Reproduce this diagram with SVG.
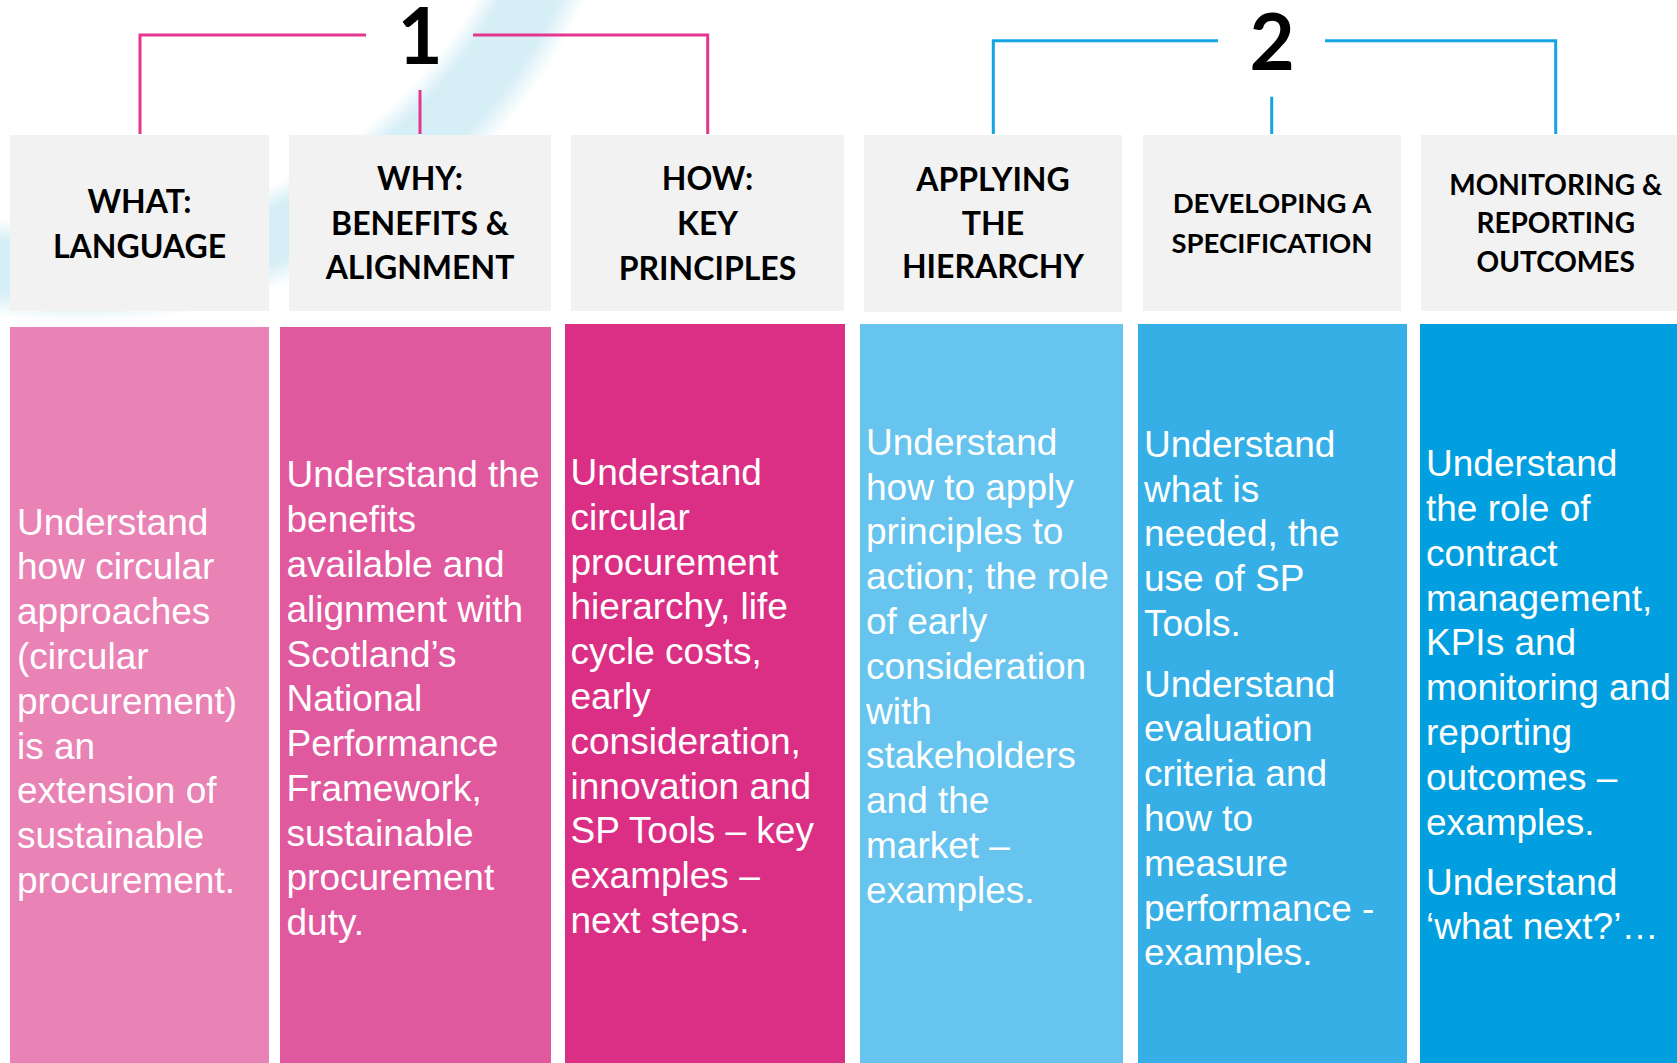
<svg xmlns="http://www.w3.org/2000/svg" width="1677" height="1063" viewBox="0 0 1677 1063">
<style>
.hd{fill:#F2F2F2}
.ht{font-family:Lato,"Open Sans",sans-serif;font-weight:700;font-size:32px;fill:#000;text-anchor:middle}
.ht5{font-size:27.5px}
.ht6{font-size:28px}
.num{font-family:Lato,"Open Sans",sans-serif;font-weight:700;font-size:78px;fill:#000;text-anchor:middle}
.bt{font-family:"Liberation Sans",Arial,sans-serif;font-size:37px;fill:#fff}
.lp{fill:none;stroke:#E4368F;stroke-width:3}
.lb{fill:none;stroke:#14A3E3;stroke-width:3}
</style>
<defs>
<radialGradient id="sw" gradientUnits="userSpaceOnUse" cx="83.5" cy="-228.6" r="560">
<stop offset="0.81" stop-color="#D6EEF6" stop-opacity="0"/>
<stop offset="0.85" stop-color="#D6EEF6" stop-opacity="1"/>
<stop offset="0.94" stop-color="#D6EEF6" stop-opacity="1"/>
<stop offset="0.985" stop-color="#D6EEF6" stop-opacity="0"/>
</radialGradient>
</defs>
<rect width="1677" height="1063" fill="#fff"/>
<circle cx="83.5" cy="-228.6" r="502" fill="none" stroke="url(#sw)" stroke-width="100"/>

<g id="connectors">
<path class="lp" d="M140 134 V35 H366"/>
<path class="lp" d="M473 35 H707.7 V134"/>
<path class="lp" d="M420 90 V134"/>
<path class="lb" d="M993.3 134 V40.7 H1218"/>
<path class="lb" d="M1325 40.7 H1555.7 V134"/>
<path class="lb" d="M1271.7 96.7 V134"/>
</g>

<g id="label-1"><text class="num" x="420" y="64">1</text></g>
<g id="label-2"><text class="num" x="1272" y="70">2</text></g>

<g id="col1">
<rect class="hd" x="10" y="135" width="259" height="176"/>
<text class="ht" x="139.5" y="212.7">WHAT:</text>
<text class="ht" x="139.5" y="257.7">LANGUAGE</text>
<rect x="10" y="327" width="259" height="736" fill="#E982B5"/>
<text class="bt" x="17" y="534.5">Understand<tspan x="17" dy="44.8">how circular</tspan><tspan x="17" dy="44.8">approaches</tspan><tspan x="17" dy="44.8">(circular</tspan><tspan x="17" dy="44.8">procurement)</tspan><tspan x="17" dy="44.8">is an</tspan><tspan x="17" dy="44.8">extension of</tspan><tspan x="17" dy="44.8">sustainable</tspan><tspan x="17" dy="44.8">procurement.</tspan></text>
</g>

<g id="col2">
<rect class="hd" x="289" y="135" width="262" height="176"/>
<text class="ht" x="420" y="190">WHY:</text>
<text class="ht" x="420" y="235">BENEFITS &amp;</text>
<text class="ht" x="420" y="279.3">ALIGNMENT</text>
<rect x="280" y="327" width="271" height="736" fill="#E0589D"/>
<text class="bt" x="286.5" y="487.3">Understand the<tspan x="286.5" dy="44.8">benefits</tspan><tspan x="286.5" dy="44.8">available and</tspan><tspan x="286.5" dy="44.8">alignment with</tspan><tspan x="286.5" dy="44.8">Scotland’s</tspan><tspan x="286.5" dy="44.8">National</tspan><tspan x="286.5" dy="44.8">Performance</tspan><tspan x="286.5" dy="44.8">Framework,</tspan><tspan x="286.5" dy="44.8">sustainable</tspan><tspan x="286.5" dy="44.8">procurement</tspan><tspan x="286.5" dy="44.8">duty.</tspan></text>
</g>

<g id="col3">
<rect class="hd" x="571" y="135" width="273" height="176"/>
<text class="ht" x="707.5" y="190">HOW:</text>
<text class="ht" x="707.5" y="235">KEY</text>
<text class="ht" x="707.5" y="279.5">PRINCIPLES</text>
<rect x="565" y="324" width="280" height="739" fill="#DB2F86"/>
<text class="bt" x="570.5" y="484.9">Understand<tspan x="570.5" dy="44.8">circular</tspan><tspan x="570.5" dy="44.8">procurement</tspan><tspan x="570.5" dy="44.8">hierarchy, life</tspan><tspan x="570.5" dy="44.8">cycle costs,</tspan><tspan x="570.5" dy="44.8">early</tspan><tspan x="570.5" dy="44.8">consideration,</tspan><tspan x="570.5" dy="44.8">innovation and</tspan><tspan x="570.5" dy="44.8">SP Tools – key</tspan><tspan x="570.5" dy="44.8">examples –</tspan><tspan x="570.5" dy="44.8">next steps.</tspan></text>
</g>

<g id="col4">
<rect class="hd" x="864" y="135" width="258" height="177"/>
<text class="ht" x="993" y="190.7">APPLYING</text>
<text class="ht" x="993" y="235">THE</text>
<text class="ht" x="993" y="278.3">HIERARCHY</text>
<rect x="860" y="324" width="263" height="739" fill="#66C4EE"/>
<text class="bt" x="866" y="454.7">Understand<tspan x="866" dy="44.8">how to apply</tspan><tspan x="866" dy="44.8">principles to</tspan><tspan x="866" dy="44.8">action; the role</tspan><tspan x="866" dy="44.8">of early</tspan><tspan x="866" dy="44.8">consideration</tspan><tspan x="866" dy="44.8">with</tspan><tspan x="866" dy="44.8">stakeholders</tspan><tspan x="866" dy="44.8">and the</tspan><tspan x="866" dy="44.8">market –</tspan><tspan x="866" dy="44.8">examples.</tspan></text>
</g>

<g id="col5">
<rect class="hd" x="1143" y="135" width="258" height="176"/>
<text class="ht ht5" x="1272" y="213.3">DEVELOPING A</text>
<text class="ht ht5" x="1272" y="253.3">SPECIFICATION</text>
<rect x="1138" y="324" width="269" height="739" fill="#35AFE5"/>
<text class="bt" x="1144" y="456.7">Understand<tspan x="1144" dy="44.8">what is</tspan><tspan x="1144" dy="44.8">needed, the</tspan><tspan x="1144" dy="44.8">use of SP</tspan><tspan x="1144" dy="44.8">Tools.</tspan></text>
<text class="bt" x="1144" y="696.6">Understand<tspan x="1144" dy="44.8">evaluation</tspan><tspan x="1144" dy="44.8">criteria and</tspan><tspan x="1144" dy="44.8">how to</tspan><tspan x="1144" dy="44.8">measure</tspan><tspan x="1144" dy="44.8">performance -</tspan><tspan x="1144" dy="44.8">examples.</tspan></text>
</g>

<g id="col6">
<rect class="hd" x="1421" y="135" width="269" height="176"/>
<text class="ht ht6" x="1555.7" y="195">MONITORING &amp;</text>
<text class="ht ht6" x="1555.7" y="233.3">REPORTING</text>
<text class="ht ht6" x="1555.7" y="271.7">OUTCOMES</text>
<rect x="1420" y="324" width="257" height="739" fill="#029FE0"/>
<text class="bt" x="1426" y="476.2">Understand<tspan x="1426" dy="44.8">the role of</tspan><tspan x="1426" dy="44.8">contract</tspan><tspan x="1426" dy="44.8">management,</tspan><tspan x="1426" dy="44.8">KPIs and</tspan><tspan x="1426" dy="44.8">monitoring and</tspan><tspan x="1426" dy="44.8">reporting</tspan><tspan x="1426" dy="44.8">outcomes –</tspan><tspan x="1426" dy="44.8">examples.</tspan></text>
<text class="bt" x="1426" y="894.6">Understand<tspan x="1426" dy="44.8">‘what next?’…</tspan></text>
</g>
</svg>
